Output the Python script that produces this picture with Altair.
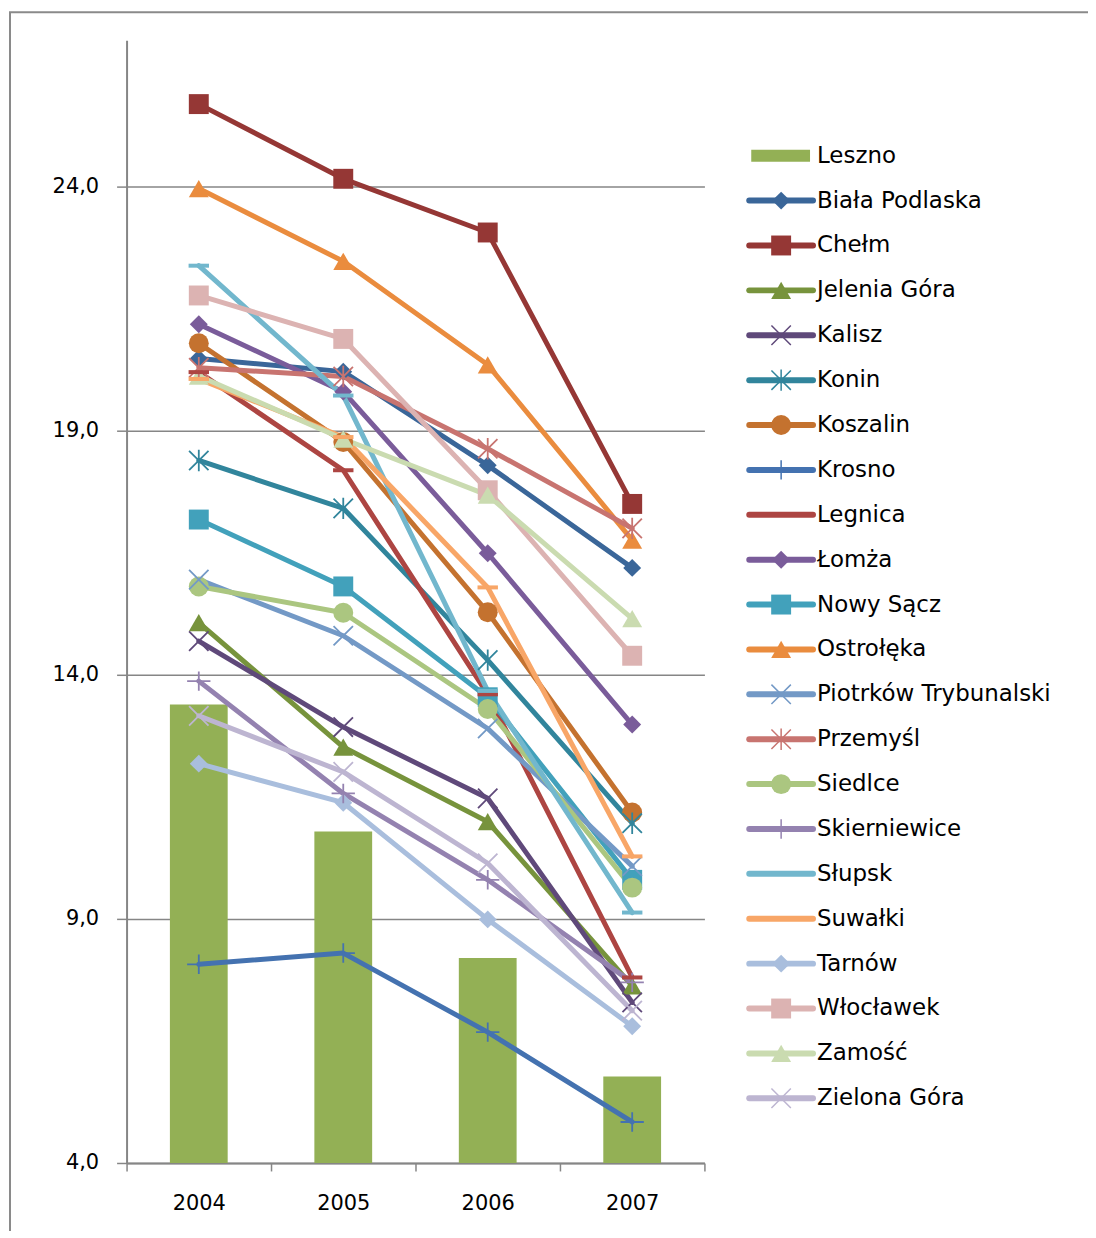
import altair as alt
import pandas as pd

# ---------------- data ----------------
years = [2004, 2005, 2006, 2007]

leszno = [13.39, 10.79, 8.20, 5.77]
biala_podlaska = [20.48, 20.21, 18.29, 16.19]
chelm = [25.69, 24.16, 23.06, 17.50]
jelenia_gora = [15.07, 12.52, 10.99, 7.63]
kalisz = [14.69, 12.93, 11.47, 7.29]
konin = [18.39, 17.41, 14.30, 10.96]
koszalin = [20.79, 18.77, 15.28, 11.18]
krosno = [8.07, 8.30, 6.68, 4.84]
legnica = [20.20, 18.19, 13.60, 7.80]
lomza = [21.18, 19.80, 16.49, 12.98]
nowy_sacz = [17.18, 15.81, 13.54, 9.80]
ostroleka = [23.96, 22.47, 20.35, 16.76]
piotrkow = [15.95, 14.80, 12.90, 10.08]
przemysl = [20.29, 20.11, 18.63, 17.00]
siedlce = [15.81, 15.27, 13.30, 9.64]
skierniewice = [13.87, 11.57, 9.80, 7.70]
slupsk = [22.38, 19.72, 13.67, 9.13]
suwalki = [20.06, 18.87, 15.79, 10.28]
tarnow = [12.18, 11.38, 8.99, 6.80]
wloclawek = [21.77, 20.88, 17.78, 14.39]
zamosc = [20.12, 18.83, 17.68, 15.15]
zielona_gora = [13.16, 12.01, 10.14, 7.12]

line_series = [
    ("Biała Podlaska", biala_podlaska),
    ("Chełm", chelm),
    ("Jelenia Góra", jelenia_gora),
    ("Kalisz", kalisz),
    ("Konin", konin),
    ("Koszalin", koszalin),
    ("Krosno", krosno),
    ("Legnica", legnica),
    ("Łomża", lomza),
    ("Nowy Sącz", nowy_sacz),
    ("Ostrołęka", ostroleka),
    ("Piotrków Trybunalski", piotrkow),
    ("Przemyśl", przemysl),
    ("Siedlce", siedlce),
    ("Skierniewice", skierniewice),
    ("Słupsk", slupsk),
    ("Suwałki", suwalki),
    ("Tarnów", tarnow),
    ("Włocławek", wloclawek),
    ("Zamość", zamosc),
    ("Zielona Góra", zielona_gora),
]
bar_name = "Leszno"
series_names = [bar_name] + [n for n, _ in line_series]

y_ticks = [4, 9, 14, 19, 24]

# ---------------- styles ----------------
colors = [
    "#93B055",  # Leszno
    "#3A6699",  # Biała Podlaska
    "#953735",  # Chełm
    "#77933C",  # Jelenia Góra
    "#5F497A",  # Kalisz
    "#31859C",  # Konin
    "#C4722F",  # Koszalin
    "#4472B0",  # Krosno
    "#AD4542",  # Legnica
    "#7A5C9A",  # Łomża
    "#42A1BB",  # Nowy Sącz
    "#EA8C3E",  # Ostrołęka
    "#7399C6",  # Piotrków
    "#C87470",  # Przemyśl
    "#ABC680",  # Siedlce
    "#9482B0",  # Skierniewice
    "#72B7CD",  # Słupsk
    "#F8A667",  # Suwałki
    "#A9BEDD",  # Tarnów
    "#DCB3B2",  # Włocławek
    "#CADBB0",  # Zamość
    "#BDB5D1",  # Zielona Góra
]

DIAMOND = "M0,-0.9L0.9,0L0,0.9L-0.9,0Z"
XMARK = "M-1,-1L1,1M-1,1L1,-1"
STAR = "M-1,-1L1,1M-1,1L1,-1M0,-1.1L0,1.1"
PLUS = "M-1.2,0L1.2,0M0,-1L0,1"
DASH = "M-1,0L1,0"

shapes = [
    "square",       # Leszno (unused)
    DIAMOND,        # Biała Podlaska
    "square",       # Chełm
    "triangle-up",  # Jelenia Góra
    XMARK,          # Kalisz
    STAR,           # Konin
    "circle",       # Koszalin
    PLUS,           # Krosno
    DASH,           # Legnica
    DIAMOND,        # Łomża
    "square",       # Nowy Sącz
    "triangle-up",  # Ostrołęka
    XMARK,          # Piotrków
    STAR,           # Przemyśl
    "circle",       # Siedlce
    PLUS,           # Skierniewice
    DASH,           # Słupsk
    DASH,           # Suwałki
    DIAMOND,        # Tarnów
    "square",       # Włocławek
    "triangle-up",  # Zamość
    XMARK,          # Zielona Góra
]

filled_names = [n for n, s in zip(series_names, shapes)
                if s in ("square", "circle", "triangle-up", DIAMOND) and n != bar_name]
cross_names = [n for n, s in zip(series_names, shapes) if s in (XMARK, STAR, PLUS)]
dash_names = [n for n, s in zip(series_names, shapes) if s == DASH]

# ---------------- tables ----------------
rows = []
for n, vals in [(bar_name, leszno)] + line_series:
    for yr, v in zip(years, vals):
        rows.append({"series": n, "year": yr, "value": v})
df = pd.DataFrame(rows)
df_bar = df[df.series == bar_name]
df_lines = df[df.series != bar_name]

legend_df = pd.DataFrame({"series": series_names, "idx": list(range(len(series_names)))})

FONT = "DejaVu Sans"
GRAY = "#868686"
W, H = 580, 1127

color_scale = alt.Scale(domain=series_names, range=colors)
shape_scale = alt.Scale(domain=series_names, range=shapes)

x_scale = alt.Scale(domain=[2003.5, 2007.5], nice=False, zero=False, padding=0)
x_axis = alt.Axis(
    values=[2003.5, 2004.5, 2005.5, 2006.5, 2007.5],
    labelExpr="datum.value < 2007 ? toString(datum.value + 0.5) : ''",
    labelOffset=72.5,
    labelOverlap=False,
    labelBound=False,
    labelFlush=False,
    grid=False,
    tickSize=8,
    tickWidth=1.5,
    tickColor=GRAY,
    domainColor=GRAY,
    domainWidth=2,
    labelPadding=22,
    labelFontSize=21,
    labelFont=FONT,
    labelColor="#000000",
    title=None,
)
x_enc = alt.X("year:Q", scale=x_scale, axis=x_axis)

y_scale = alt.Scale(domain=[4, 27], nice=False, zero=False, padding=0)
y_axis = alt.Axis(
    values=y_ticks,
    labelExpr="replace(format(datum.value, '.1f'), '.', ',')",
    grid=True,
    gridColor=GRAY,
    gridWidth=1.5,
    tickSize=10,
    tickWidth=1.5,
    tickColor=GRAY,
    domainColor=GRAY,
    domainWidth=2,
    labelPadding=18,
    labelFontSize=21,
    labelFont=FONT,
    labelColor="#000000",
    title=None,
)
y_enc = alt.Y("value:Q", scale=y_scale, axis=y_axis)

frame = alt.Chart(alt.Data(values=[{"a": 1}])).mark_rect(
    fillOpacity=0, stroke="#8a8a8a", strokeWidth=2
).encode(
    x=alt.value(-117), x2=alt.value(1300), y=alt.value(-28), y2=alt.value(1500)
)

bars = alt.Chart(df_bar).mark_bar(size=58, color=colors[0]).encode(
    x=x_enc, y=y_enc, y2=alt.datum(4)
)

lines = alt.Chart(df_lines).mark_line(
    strokeWidth=5, strokeCap="round", strokeJoin="round"
).encode(
    x=x_enc,
    y=y_enc,
    color=alt.Color("series:N", scale=color_scale, legend=None),
    detail="series:N",
)

pts_filled = alt.Chart(df_lines).transform_filter(
    alt.FieldOneOfPredicate(field="series", oneOf=filled_names)
).mark_point(filled=True, opacity=1, size=400).encode(
    x=x_enc,
    y=y_enc,
    color=alt.Color("series:N", scale=color_scale, legend=None),
    shape=alt.Shape("series:N", scale=shape_scale, legend=None),
)
pts_cross = alt.Chart(df_lines).transform_filter(
    alt.FieldOneOfPredicate(field="series", oneOf=cross_names)
).mark_point(filled=False, opacity=1, size=380, strokeWidth=1.8).encode(
    x=x_enc,
    y=y_enc,
    color=alt.Color("series:N", scale=color_scale, legend=None),
    shape=alt.Shape("series:N", scale=shape_scale, legend=None),
)
pts_dash = alt.Chart(df_lines).transform_filter(
    alt.FieldOneOfPredicate(field="series", oneOf=dash_names)
).mark_point(filled=False, opacity=1, size=420, strokeWidth=4).encode(
    x=x_enc,
    y=y_enc,
    color=alt.Color("series:N", scale=color_scale, legend=None),
    shape=alt.Shape("series:N", scale=shape_scale, legend=None),
)

data_layers = alt.layer(frame, bars, lines, pts_filled, pts_cross, pts_dash)

# ---------------- legend ----------------
step = 45.05
first = 116
d0 = -first / step
d1 = d0 + H / step
leg_y = alt.Y("idx:Q", scale=alt.Scale(domain=[d0, d1], reverse=True, nice=False, zero=False, padding=0), axis=None)

LX0, LX1, LXM, LXT = 625, 689, 657, 693

leg_bar = alt.Chart(legend_df).transform_filter(
    alt.datum.series == bar_name
).mark_rule(strokeWidth=12, strokeCap="butt", color=colors[0]).encode(
    x=alt.value(LX0 + 2), x2=alt.value(LX1 - 3), y=leg_y
)
leg_rules = alt.Chart(legend_df).transform_filter(
    alt.datum.series != bar_name
).mark_rule(strokeWidth=6, strokeCap="round").encode(
    x=alt.value(LX0), x2=alt.value(LX1), y=leg_y,
    color=alt.Color("series:N", scale=color_scale, legend=None),
)
leg_filled = alt.Chart(legend_df).transform_filter(
    alt.FieldOneOfPredicate(field="series", oneOf=filled_names)
).mark_point(filled=True, opacity=1, size=400).encode(
    x=alt.value(LXM), y=leg_y,
    color=alt.Color("series:N", scale=color_scale, legend=None),
    shape=alt.Shape("series:N", scale=shape_scale, legend=None),
)
leg_cross = alt.Chart(legend_df).transform_filter(
    alt.FieldOneOfPredicate(field="series", oneOf=cross_names)
).mark_point(filled=False, opacity=1, size=380, strokeWidth=1.5).encode(
    x=alt.value(LXM), y=leg_y,
    color=alt.Color("series:N", scale=color_scale, legend=None),
    shape=alt.Shape("series:N", scale=shape_scale, legend=None),
)
leg_text = alt.Chart(legend_df).mark_text(
    align="left", baseline="middle", font=FONT, fontSize=23, color="#000000"
).encode(
    x=alt.value(LXT), y=leg_y, text="series:N"
)

legend_layers = alt.layer(leg_bar, leg_rules, leg_filled, leg_cross, leg_text)

chart = alt.layer(data_layers, legend_layers).resolve_scale(
    y="independent"
).properties(
    width=W,
    height=H,
    padding={"left": 119, "top": 30, "right": 385, "bottom": 66},
    autosize=alt.AutoSizeParams(type="none"),
    background="#ffffff",
).configure_view(stroke=None)

chart.save("out.html", embed_options={"renderer": "svg", "actions": False})
